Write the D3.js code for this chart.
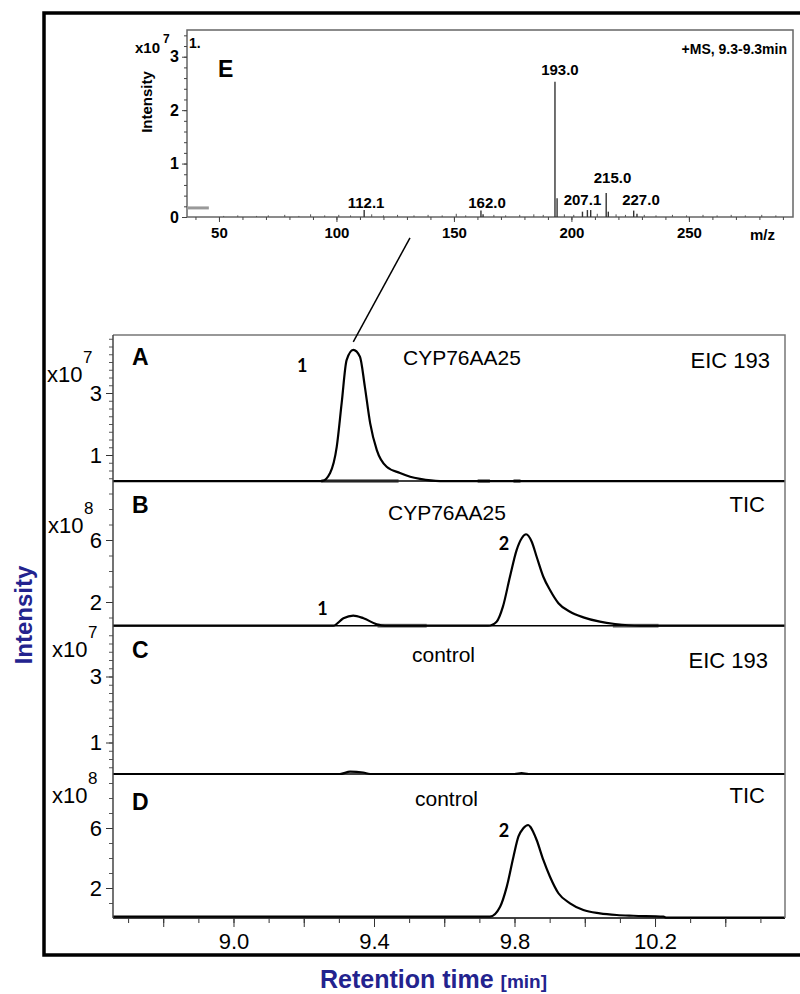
<!DOCTYPE html>
<html>
<head>
<meta charset="utf-8">
<script src="https://cdn.jsdelivr.net/npm/d3@7"></script>
<style>
  body { margin: 0; background: #fff; }
  svg { display: block; }
</style>
</head>
<body>
<script>
// ---- data ----
// retention time axis (min)
var rtTicks = [9.0, 9.4, 9.8, 10.2];

// chromatograms: [retention time, intensity]
// A: EIC 193, x10^7
var eicA = [[8.657,0.16],[9.252,0.16],[9.275,0.42],[9.294,1.27],[9.308,2.68],[9.322,4.06],[9.341,4.39],
  [9.360,4.17],[9.374,3.20],[9.389,2.03],[9.408,1.16],[9.436,0.62],[9.474,0.42],[9.503,0.30],
  [9.531,0.23],[9.588,0.16],[10.57,0.16]];
// B: TIC, x10^8
var ticB = [[8.657,0.47],[9.284,0.47],[9.313,0.95],[9.341,1.12],[9.370,0.95],[9.408,0.56],[9.431,0.47],
  [9.725,0.47],[9.749,0.73],[9.767,1.70],[9.787,3.63],[9.806,5.35],[9.821,6.13],[9.833,6.37],
  [9.849,5.89],[9.863,4.92],[9.882,3.63],[9.901,2.77],[9.925,1.92],[9.958,1.37],[9.996,1.01],
  [10.043,0.73],[10.086,0.58],[10.157,0.47],[10.57,0.47]];
// C: EIC 193 control, x10^7
var eicC = [[8.657,0.045],[9.303,0.045],[9.332,0.115],[9.369,0.09],[9.389,0.045],[9.80,0.045],
  [9.82,0.07],[9.84,0.045],[10.57,0.045]];
// D: TIC control, x10^8
var ticD = [[8.657,0.09],[9.730,0.09],[9.759,0.75],[9.778,2.09],[9.797,4.09],[9.811,5.42],[9.825,5.98],
  [9.839,6.2],[9.846,6.05],[9.853,5.75],[9.863,5.2],[9.882,3.87],[9.901,2.75],[9.925,1.65],
  [9.958,0.98],[9.996,0.53],[10.043,0.31],[10.091,0.2],[10.138,0.15],[10.224,0.09],[10.233,0.02],
  [10.57,0.02]];

// grey integration marks on the baselines (time ranges)
var marksA = [[9.25,9.47],[9.695,9.73],[9.797,9.817]];
var marksB = [[9.41,9.55],[10.08,10.21]];

// peak number labels: [text, rt, intensity]
var peaksA = [['1', 9.196, 3.68]];
var peaksB = [['1', 9.253, 1.16], ['2', 9.770, 5.35]];
var peaksD = [['2', 9.770, 5.40]];

// y tick labels per panel
var labTicksA = [1, 3], labTicksB = [2, 6], labTicksC = [1, 3], labTicksD = [2, 6];

// mass spectrum E: [m/z, intensity x10^7]
var msPeaks = [[111.8,0.13],[161.5,0.12],[162.4,0.05],[193.0,2.53],[193.9,0.35],[204.7,0.10],
  [206.8,0.13],[208.2,0.13],[214.8,0.45],[215.7,0.10],[226.5,0.12],[227.9,0.06]];
var msNoise = [[52,0.02],[58,0.03],[66,0.02],[71,0.03],[78,0.04],[84,0.02],[89,0.05],[95,0.03],
  [101,0.04],[106,0.03],[115,0.05],[120,0.03],[126,0.04],[133,0.03],[139,0.04],[145,0.03],
  [151,0.06],[155,0.03],[167,0.04],[172,0.03],[178,0.04],[184,0.05],[188,0.04],[197,0.05],
  [201,0.04],[211,0.06],[219,0.05],[223,0.04],[231,0.04],[236,0.03],[243,0.04],[249,0.03],
  [256,0.04],[262,0.03],[268,0.04],[274,0.03],[281,0.04],[287,0.03]];
var msLabels = ['112.1', '162.0', '193.0', '207.1', '215.0', '227.0'];
var msLabelMz = [112.6, 164.1, 195.1, 204.7, 217.5, 229.6];
var msLabelAt = [0.17, 0.17, 2.65, 0.22, 0.64, 0.22];
var msXTicks = [50, 100, 150, 200, 250];
var msYTicks = [0, 1, 2, 3];

// ---- drawing ----
var FONT = '"Liberation Sans", Arial, Helvetica, sans-serif';
var BLUE = '#23238e';

var svg = d3.select('body').append('svg')
  .attr('width', 800)
  .attr('height', 994)
  .style('font-family', FONT);

// outer frame
svg.append('path')
  .attr('d', 'M806,13 H44 V955 H806')
  .attr('fill', 'none')
  .attr('stroke', '#000')
  .attr('stroke-width', 3.5);

var plotL = 113, plotR = 785;
var x = d3.scaleLinear().domain([8.657, 10.57]).range([plotL, plotR]);

var panels = [
  {id: 'A', data: eicA, top: 335, bottom: 481, zero: 486, px: 31, exp: '7', labs: labTicksA, minor: 0.25,
   marks: marksA, peaks: peaksA, sample: 'CYP76AA25', trace: 'EIC 193',
   letterY: 365, sampleX: 403, sampleY: 365, traceY: 368, traceX: 770, expY: 382, expX: 47},
  {id: 'B', data: ticB, top: 481, bottom: 625.7, zero: 633, px: 15.5, exp: '8', labs: labTicksB, minor: 1,
   marks: marksB, peaks: peaksB, sample: 'CYP76AA25', trace: 'TIC',
   letterY: 513, sampleX: 388, sampleY: 520, traceY: 512, traceX: 765, expY: 533, expX: 48},
  {id: 'C', data: eicC, top: 625.7, bottom: 774, zero: 775.5, px: 33, exp: '7', labs: labTicksC, minor: 0.25,
   marks: [], peaks: [], sample: 'control', trace: 'EIC 193',
   letterY: 658, sampleX: 412, sampleY: 662, traceY: 668, traceX: 768, expY: 657, expX: 52},
  {id: 'D', data: ticD, top: 774, bottom: 918, zero: 918, px: 15, exp: '8', labs: labTicksD, minor: 1,
   marks: [], peaks: peaksD, sample: 'control', trace: 'TIC',
   letterY: 810, sampleX: 415, sampleY: 806, traceY: 803, traceX: 765, expY: 803, expX: 52}
];

panels.forEach(function(p) {
  var yMax = (p.zero - p.top) / p.px;
  var y = d3.scaleLinear().domain([0, yMax]).range([p.zero, p.top]);
  p.y = y;
  var g = svg.append('g').attr('class', 'panel-' + p.id);

  // minor ticks
  var minors = d3.range(p.minor, yMax, p.minor).filter(function(v) {
    return y(v) < p.bottom - 2 && y(v) > p.top + 2;
  });
  g.append('g')
    .attr('transform', 'translate(' + plotL + ',0)')
    .call(d3.axisLeft(y).tickValues(minors).tickSize(4).tickFormat(''))
    .call(function(s) { s.select('.domain').remove(); s.selectAll('line').attr('stroke', '#555'); });

  // labelled ticks
  g.append('g')
    .attr('transform', 'translate(' + plotL + ',0)')
    .call(d3.axisLeft(y).tickValues(p.labs).tickSize(7).tickPadding(4).tickFormat(d3.format('d')))
    .call(function(s) {
      s.select('.domain').remove();
      s.selectAll('line').attr('stroke', '#333');
      s.selectAll('text').attr('font-family', FONT).attr('font-size', 22).attr('fill', '#000');
    });

  // exponent
  g.append('text').attr('x', p.expX).attr('y', p.expY)
    .attr('font-size', 22).text('x10');
  g.append('text').attr('x', p.expX + 36).attr('y', p.expY - 19)
    .attr('font-size', 17).text(p.exp);

  // grey marks on baseline
  g.selectAll('.mark').data(p.marks).enter().append('line')
    .attr('x1', function(d) { return x(d[0]); })
    .attr('x2', function(d) { return x(d[1]); })
    .attr('y1', p.bottom).attr('y2', p.bottom)
    .attr('stroke', '#8a8a8a').attr('stroke-width', 4);

  // baseline
  g.append('line').attr('x1', plotL).attr('x2', plotR)
    .attr('y1', p.bottom).attr('y2', p.bottom)
    .attr('stroke', '#000').attr('stroke-width', 1.5);

  // trace
  var line = d3.line()
    .x(function(d) { return x(d[0]); })
    .y(function(d) { return y(d[1]); })
    .curve(d3.curveMonotoneX);
  g.append('path').datum(p.data)
    .attr('d', line)
    .attr('fill', 'none')
    .attr('stroke', '#000')
    .attr('stroke-width', 2.2)
    .attr('stroke-linejoin', 'round');

  // texts
  g.append('text').attr('x', 132).attr('y', p.letterY)
    .attr('font-size', 23).attr('font-weight', 'bold').text(p.id);
  g.append('text').attr('x', p.sampleX).attr('y', p.sampleY)
    .attr('font-size', 21).text(p.sample);
  g.append('text').attr('x', p.traceX).attr('y', p.traceY)
    .attr('text-anchor', 'end').attr('font-size', 22).text(p.trace);

  g.selectAll('.pk').data(p.peaks).enter().append('text')
    .attr('x', function(d) { return x(d[1]); })
    .attr('y', function(d) { return y(d[2]); })
    .attr('text-anchor', 'middle')
    .attr('font-family', 'Lato, "Open Sans", sans-serif')
    .attr('font-weight', 'bold')
    .attr('font-size', 18)
    .text(function(d) { return d[0]; });
});

// plot frame
svg.append('path')
  .attr('d', 'M' + plotL + ',335 H' + plotR + ' V918')
  .attr('fill', 'none').attr('stroke', '#777').attr('stroke-width', 1.5);
svg.append('line').attr('x1', plotL).attr('x2', plotL).attr('y1', 335).attr('y2', 918)
  .attr('stroke', '#444').attr('stroke-width', 1.5);

// x axis
var minorRt = d3.range(8.7, 10.56, 0.1);
svg.append('g')
  .attr('transform', 'translate(0,918)')
  .call(d3.axisBottom(x).tickValues(minorRt).tickSize(5).tickFormat(''))
  .call(function(s) { s.select('.domain').remove(); s.selectAll('line').attr('stroke', '#333'); });
svg.append('g')
  .attr('transform', 'translate(0,918)')
  .call(d3.axisBottom(x).tickValues(d3.range(8.8, 10.56, 0.2)).tickSize(9).tickFormat(''))
  .call(function(s) { s.select('.domain').remove(); s.selectAll('line').attr('stroke', '#333'); });
svg.append('g')
  .attr('transform', 'translate(0,918)')
  .call(d3.axisBottom(x).tickValues(rtTicks).tickSize(0).tickPadding(15).tickFormat(d3.format('.1f')))
  .call(function(s) {
    s.select('.domain').remove();
    s.selectAll('text').attr('font-family', FONT).attr('font-size', 22).attr('fill', '#000');
  });

// axis titles
var xt = svg.append('text').attr('x', 320).attr('y', 988)
  .attr('fill', BLUE).attr('font-weight', 'bold');
xt.append('tspan').attr('font-size', 25).text('Retention time ');
xt.append('tspan').attr('font-size', 19).text('[min]');

svg.append('text')
  .attr('transform', 'translate(32,615) rotate(-90)')
  .attr('text-anchor', 'middle')
  .attr('fill', BLUE).attr('font-weight', 'bold').attr('font-size', 24)
  .text('Intensity');

// ---- inset E: mass spectrum ----
var xE = d3.scaleLinear().domain([36.4, 294.3]).range([187, 793]);
var yE = d3.scaleLinear().domain([0, 3.5]).range([217, 30]);
var gE = svg.append('g').attr('class', 'inset');

gE.append('rect').attr('x', 187).attr('y', 30).attr('width', 606).attr('height', 187)
  .attr('fill', '#fff').attr('stroke', '#666').attr('stroke-width', 1.5);

gE.append('g').attr('transform', 'translate(187,0)')
  .call(d3.axisLeft(yE).tickValues(d3.range(0.2, 3.5, 0.2)).tickSize(3).tickFormat(''))
  .call(function(s) { s.select('.domain').remove(); s.selectAll('line').attr('stroke', '#444'); });
gE.append('g').attr('transform', 'translate(187,0)')
  .call(d3.axisLeft(yE).tickValues(msYTicks).tickSize(5).tickPadding(3).tickFormat(d3.format('d')))
  .call(function(s) {
    s.select('.domain').remove();
    s.selectAll('line').attr('stroke', '#444');
    s.selectAll('text').attr('font-family', FONT).attr('font-size', 16).attr('font-weight', 'bold').attr('fill', '#000');
  });
gE.append('g').attr('transform', 'translate(0,217)')
  .call(d3.axisBottom(xE).tickValues(d3.range(40, 295, 10)).tickSize(3).tickFormat(''))
  .call(function(s) { s.select('.domain').remove(); s.selectAll('line').attr('stroke', '#444'); });
gE.append('g').attr('transform', 'translate(0,217)')
  .call(d3.axisBottom(xE).tickValues(msXTicks).tickSize(5).tickPadding(5).tickFormat(d3.format('d')))
  .call(function(s) {
    s.select('.domain').remove();
    s.selectAll('line').attr('stroke', '#444');
    s.selectAll('text').attr('font-family', FONT).attr('font-size', 15).attr('font-weight', 'bold').attr('fill', '#000');
  });

// precursor bar
gE.append('line').attr('x1', xE(36.4)).attr('x2', xE(45.7))
  .attr('y1', yE(0.17)).attr('y2', yE(0.17))
  .attr('stroke', '#999').attr('stroke-width', 3);

// stems
gE.selectAll('.noise').data(msNoise).enter().append('line')
  .attr('x1', function(d) { return xE(d[0]); }).attr('x2', function(d) { return xE(d[0]); })
  .attr('y1', yE(0)).attr('y2', function(d) { return yE(d[1]); })
  .attr('stroke', '#555').attr('stroke-width', 1);
gE.selectAll('.stem').data(msPeaks).enter().append('line')
  .attr('x1', function(d) { return xE(d[0]); }).attr('x2', function(d) { return xE(d[0]); })
  .attr('y1', yE(0)).attr('y2', function(d) { return yE(d[1]); })
  .attr('stroke', '#333').attr('stroke-width', 1.4);

gE.selectAll('.mslab').data(msLabels).enter().append('text')
  .attr('x', function(d, i) { return xE(msLabelMz[i]); })
  .attr('y', function(d, i) { return yE(msLabelAt[i]); })
  .attr('text-anchor', 'middle')
  .attr('font-size', 15).attr('font-weight', 'bold')
  .text(function(d) { return d; });

gE.append('text').attr('x', 787).attr('y', 54).attr('text-anchor', 'end')
  .attr('font-size', 14).attr('font-weight', 'bold').text('+MS, 9.3-9.3min');
gE.append('text').attr('x', 218).attr('y', 77)
  .attr('font-size', 23).attr('font-weight', 'bold').text('E');
gE.append('text').attr('x', 189).attr('y', 48)
  .attr('font-size', 14).attr('font-weight', 'bold').text('1.');
gE.append('text').attr('x', 135).attr('y', 53)
  .attr('font-size', 15).attr('font-weight', 'bold').text('x10');
gE.append('text').attr('x', 163).attr('y', 43)
  .attr('font-size', 12).attr('font-weight', 'bold').text('7');
gE.append('text').attr('x', 750).attr('y', 240)
  .attr('font-size', 15).attr('font-weight', 'bold').text('m/z');
gE.append('text')
  .attr('transform', 'translate(152,102) rotate(-90)')
  .attr('text-anchor', 'middle')
  .attr('font-size', 15).attr('font-weight', 'bold').text('Intensity');

// connector from spectrum to peak 1 of A
var pA = panels[0];
svg.append('line')
  .attr('x1', xE(131.3)).attr('y1', yE(-0.39))
  .attr('x2', x(9.341)).attr('y2', pA.y(4.65))
  .attr('stroke', '#000').attr('stroke-width', 1.5);
</script>
</body>
</html>
